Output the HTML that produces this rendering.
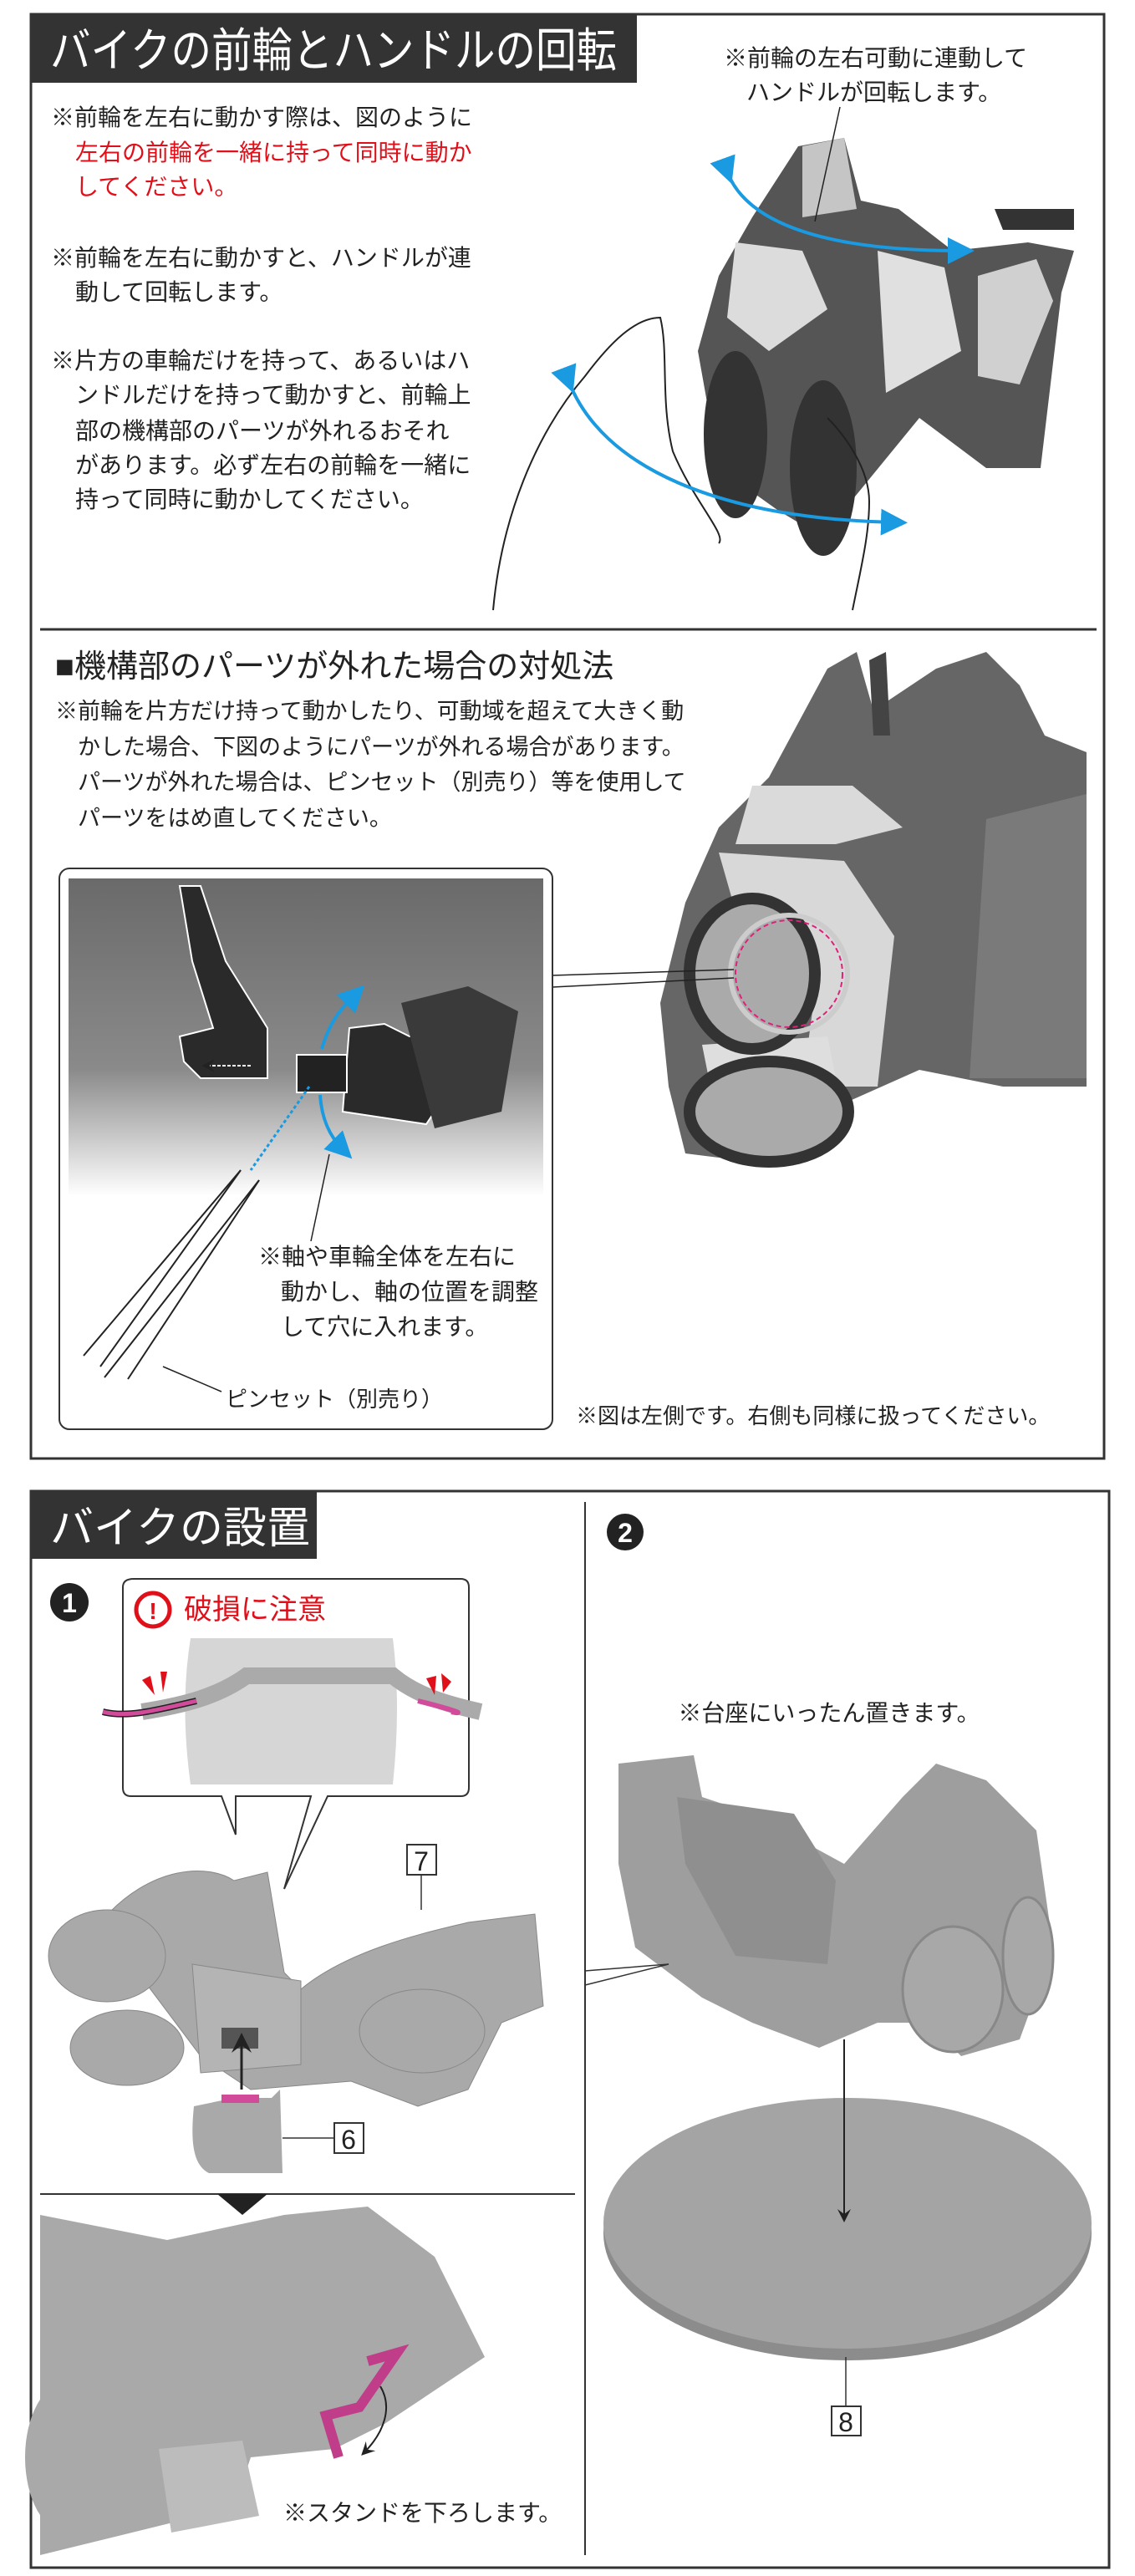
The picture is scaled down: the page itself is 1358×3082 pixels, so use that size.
<!DOCTYPE html>
<html><head><meta charset="utf-8">
<style>
html,body{margin:0;padding:0;background:#fff;}
svg{display:block;}
text{font-family:"Liberation Sans","Noto Sans CJK JP",sans-serif;}
</style></head>
<body>
<svg width="1358" height="3082" viewBox="0 0 1358 3082" xmlns="http://www.w3.org/2000/svg">
<defs>
<linearGradient id="fade" x1="0" y1="0" x2="0" y2="1">
<stop offset="0" stop-color="#6a6a6a"/><stop offset="0.6" stop-color="#8a8a8a"/><stop offset="1" stop-color="#ffffff"/>
</linearGradient>
<marker id="ab" markerWidth="8" markerHeight="8" refX="4" refY="4" orient="auto"><path d="M0,0 L8,4 L0,8z" fill="#1a9ae0"/></marker>
<marker id="ak" markerWidth="8" markerHeight="8" refX="6" refY="4" orient="auto"><path d="M0,0 L8,4 L0,8 L3,4z" fill="#222"/></marker>
</defs>

<!-- ===== Box 1 ===== -->
<rect x="37" y="17" width="1284" height="1728" fill="#fff" stroke="#333" stroke-width="3"/>
<rect x="37" y="17" width="725" height="82" fill="#333"/>
<text x="60" y="80" font-size="56" fill="#fff" textLength="678" lengthAdjust="spacingAndGlyphs">バイクの前輪とハンドルの回転</text>

<g font-size="28" fill="#222">
<text x="61" y="150">※前輪を左右に動かす際は、図のように</text>
<text x="90" y="192" fill="#e0101a">左右の前輪を一緒に持って同時に動か</text>
<text x="90" y="233" fill="#e0101a">してください。</text>
<text x="61" y="318">※前輪を左右に動かすと、ハンドルが連</text>
<text x="90" y="359">動して回転します。</text>
<text x="61" y="441">※片方の車輪だけを持って、あるいはハ</text>
<text x="90" y="482">ンドルだけを持って動かすと、前輪上</text>
<text x="90" y="525">部の機構部のパーツが外れるおそれ</text>
<text x="90" y="566">があります。必ず左右の前輪を一緒に</text>
<text x="90" y="607">持って同時に動かしてください。</text>
<text x="866" y="79">※前輪の左右可動に連動して</text>
<text x="893" y="120">ハンドルが回転します。</text>
</g>

<!-- top bike -->
<g>
<path d="M955,175 L1010,165 L1030,240 L1075,250 L1140,300 L1230,290 L1285,300 L1270,350 L1245,560 L1180,560 L1100,500 L1010,610 L980,640 L930,610 L860,560 L835,420 L860,330 L900,260 Z" fill="#555"/>
<path d="M960,175 L1010,165 L1025,250 L960,260 Z" fill="#c5c5c5"/>
<path d="M880,290 L960,300 L990,370 L920,420 L870,380 Z" fill="#dcdcdc"/>
<path d="M1050,300 L1130,320 L1150,420 L1060,470 Z" fill="#e0e0e0"/>
<path d="M1170,330 L1240,310 L1260,360 L1220,460 L1170,450 Z" fill="#d0d0d0"/>
<ellipse cx="880" cy="520" rx="38" ry="100" fill="#333"/>
<ellipse cx="985" cy="560" rx="40" ry="105" fill="#333"/>
<path d="M1190,250 L1285,250 L1285,275 L1200,275 Z" fill="#333"/>
</g>
<!-- hand outline -->
<path d="M590,730 C600,620 640,520 700,450 C730,410 760,380 790,380 C800,420 790,480 805,540 C830,600 870,640 860,650 M1020,730 C1030,680 1040,640 1040,600 C1040,560 1010,520 990,500" fill="none" stroke="#222" stroke-width="2"/>
<!-- blue arrows -->
<path d="M870,205 C890,260 970,300 1150,300" fill="none" stroke="#1a9ae0" stroke-width="4" marker-start="url(#ab)" marker-end="url(#ab)"/>
<path d="M680,455 C720,560 860,620 1070,625" fill="none" stroke="#1a9ae0" stroke-width="4" marker-start="url(#ab)" marker-end="url(#ab)"/>
<line x1="1005" y1="128" x2="975" y2="265" stroke="#222" stroke-width="1.5"/>

<line x1="48" y1="753" x2="1312" y2="753" stroke="#333" stroke-width="3"/>

<text x="66" y="810" font-size="38" fill="#222">■機構部のパーツが外れた場合の対処法</text>
<g font-size="27" fill="#222">
<text x="66" y="860">※前輪を片方だけ持って動かしたり、可動域を超えて大きく動</text>
<text x="93" y="903">かした場合、下図のようにパーツが外れる場合があります。</text>
<text x="93" y="945">パーツが外れた場合は、ピンセット（別売り）等を使用して</text>
<text x="93" y="988">パーツをはめ直してください。</text>
</g>

<!-- second bike -->
<g>
<path d="M990,800 L1025,780 L1045,850 L1120,800 L1180,780 L1220,820 L1250,880 L1300,900 L1300,1300 L1200,1300 L1100,1280 L1010,1320 L900,1390 L820,1380 L800,1300 L790,1200 L820,1080 L860,990 L920,930 Z" fill="#666"/>
<path d="M900,940 L1020,940 L1080,990 L1000,1010 L880,1010 Z" fill="#dadada"/>
<path d="M860,1020 L1010,1030 L1070,1120 L1050,1300 L960,1300 L980,1150 L880,1090 Z" fill="#d8d8d8"/>
<path d="M840,1250 L990,1240 L1000,1290 L850,1300 Z" fill="#dedede"/>
<ellipse cx="900" cy="1165" rx="75" ry="90" fill="#aaa" stroke="#333" stroke-width="14"/>
<ellipse cx="920" cy="1330" rx="95" ry="60" fill="#aaa" stroke="#333" stroke-width="14"/>
<path d="M1180,980 L1300,950 L1300,1290 L1160,1290 Z" fill="#7a7a7a"/>
<path d="M1040,790 L1060,780 L1065,880 L1045,880 Z" fill="#444"/>
</g>
<circle cx="944" cy="1165" r="70" fill="none" stroke="#ccc" stroke-width="6"/>
<circle cx="944" cy="1165" r="64" fill="none" stroke="#e0207a" stroke-width="2" stroke-dasharray="6 4"/>
<line x1="661" y1="1167" x2="878" y2="1160" stroke="#222" stroke-width="1.5"/>
<line x1="661" y1="1181" x2="878" y2="1170" stroke="#222" stroke-width="1.5"/>

<!-- inset -->
<rect x="71" y="1039" width="590" height="671" rx="12" fill="#fff" stroke="#333" stroke-width="2"/>
<rect x="82" y="1051" width="568" height="380" fill="url(#fade)"/>
<path d="M215,1060 L240,1060 L270,1150 L320,1230 L320,1290 L240,1290 L220,1270 L215,1240 L255,1230 L230,1150 Z" fill="#2a2a2a" stroke="#fff" stroke-width="2"/>
<path d="M418,1230 L460,1225 L490,1240 L530,1230 L540,1300 L510,1345 L410,1330 Z" fill="#2a2a2a" stroke="#fff" stroke-width="2"/>
<rect x="355" y="1262" width="60" height="45" fill="#222" stroke="#fff" stroke-width="2"/>
<path d="M480,1200 L560,1180 L620,1210 L600,1330 L520,1350 Z" fill="#3a3a3a"/>
<path d="M385,1255 C395,1220 410,1205 425,1190" fill="none" stroke="#1a9ae0" stroke-width="4" marker-end="url(#ab)"/>
<path d="M383,1310 C385,1340 395,1360 410,1375" fill="none" stroke="#1a9ae0" stroke-width="4" marker-end="url(#ab)"/>
<line x1="370" y1="1300" x2="300" y2="1400" stroke="#1a9ae0" stroke-width="3" stroke-dasharray="4 3"/>
<path d="M300,1275 L245,1275" stroke="#fff" stroke-width="2" stroke-dasharray="4 2" marker-end="url(#ak)"/>
<g stroke="#222" stroke-width="2" fill="none">
<path d="M100,1622 L288,1400"/><path d="M120,1635 L288,1400"/>
<path d="M125,1648 L310,1412"/><path d="M153,1650 L310,1412"/>
</g>
<line x1="394" y1="1381" x2="372" y2="1485" stroke="#222" stroke-width="1.5"/>
<line x1="195" y1="1635" x2="265" y2="1665" stroke="#222" stroke-width="1.5"/>
<g font-size="28" fill="#222">
<text x="309" y="1513">※軸や車輪全体を左右に</text>
<text x="336" y="1555">動かし、軸の位置を調整</text>
<text x="336" y="1597">して穴に入れます。</text>
<text x="270" y="1683" font-size="26">ピンセット（別売り）</text>
</g>
<text x="689" y="1703" font-size="26" fill="#222">※図は左側です。右側も同様に扱ってください。</text>

<!-- ===== Box 2 ===== -->
<rect x="37" y="1784" width="1290" height="1288" fill="#fff" stroke="#333" stroke-width="3"/>
<rect x="37" y="1784" width="342" height="81" fill="#333"/>
<text x="60" y="1846" font-size="52" fill="#fff">バイクの設置</text>
<line x1="700" y1="1797" x2="700" y2="3057" stroke="#333" stroke-width="2"/>
<line x1="48" y1="2625" x2="688" y2="2625" stroke="#333" stroke-width="2"/>
<path d="M260,2625 L320,2625 L290,2650 Z" fill="#222"/>

<circle cx="83" cy="1917" r="23" fill="#222"/>
<text x="83" y="1929" font-size="32" font-weight="bold" fill="#fff" text-anchor="middle">1</text>
<circle cx="748" cy="1833" r="22" fill="#222"/>
<text x="748" y="1845" font-size="32" font-weight="bold" fill="#fff" text-anchor="middle">2</text>

<!-- callout -->
<path d="M160,1889 L551,1889 Q561,1889 561,1899 L561,2139 Q561,2149 551,2149 L392,2149 L340,2260 L372,2149 L282,2149 L282,2195 L265,2149 L157,2149 Q147,2149 147,2139 L147,1899 Q147,1889 160,1889 Z" fill="#fff" stroke="#333" stroke-width="2"/>
<circle cx="183" cy="1926" r="20" fill="#fff" stroke="#e0101a" stroke-width="5"/>
<text x="183" y="1937" font-size="28" font-weight="bold" fill="#e0101a" text-anchor="middle">!</text>
<text x="220" y="1937" font-size="34" fill="#e0101a">破損に注意</text>
<path d="M228,1960 L470,1960 Q480,2040 470,2135 L228,2135 Q215,2040 228,1960 Z" fill="#d6d6d6"/>
<path d="M170,2048 C220,2040 260,2030 295,2005 L470,2005 C500,2030 540,2040 575,2048" fill="none" stroke="#aaa" stroke-width="20"/>
<path d="M123,2048 C150,2055 180,2048 235,2035" fill="none" stroke="#222" stroke-width="8"/>
<path d="M123,2048 C150,2055 180,2048 235,2035" fill="none" stroke="#d24a9a" stroke-width="5"/>
<path d="M500,2035 C540,2045 560,2052 540,2048" fill="none" stroke="#d24a9a" stroke-width="6"/>
<g fill="#e0101a"><path d="M170,2010 L185,2028 L180,2005z"/><path d="M192,2000 L195,2025 L200,2000z"/><path d="M510,2008 L520,2028 L522,2005z"/><path d="M528,2002 L530,2025 L540,2012z"/></g>

<!-- lying bike -->
<g fill="#a9a9a9" stroke="#888" stroke-width="1">
<path d="M120,2300 C180,2230 250,2230 280,2250 L320,2240 L340,2360 L360,2380 C420,2330 520,2310 560,2300 L640,2290 L650,2400 L600,2420 L560,2500 L500,2520 L420,2490 L300,2500 L240,2460 Z"/>
<ellipse cx="128" cy="2340" rx="70" ry="55"/>
<ellipse cx="152" cy="2450" rx="68" ry="45"/>
<ellipse cx="505" cy="2430" rx="75" ry="50"/>
<path d="M230,2350 L360,2370 L360,2470 L240,2480 Z" fill="#b4b4b4"/>
</g>
<rect x="265" y="2426" width="44" height="25" fill="#555"/>
<line x1="289" y1="2500" x2="289" y2="2438" stroke="#222" stroke-width="3" marker-end="url(#ak)"/>
<path d="M232,2520 L280,2510 L325,2510 L335,2500 L338,2600 L250,2600 C230,2590 228,2560 232,2520 Z" fill="#a9a9a9"/>
<rect x="265" y="2506" width="45" height="10" fill="#d24a9a"/>
<rect x="487" y="2207" width="35" height="36" fill="#fff" stroke="#333" stroke-width="2"/>
<text x="504" y="2238" font-size="32" fill="#222" text-anchor="middle">7</text>
<line x1="504" y1="2243" x2="504" y2="2285" stroke="#333" stroke-width="1.5"/>
<rect x="400" y="2540" width="35" height="36" fill="#fff" stroke="#333" stroke-width="2"/>
<text x="417" y="2571" font-size="32" fill="#222" text-anchor="middle">6</text>
<line x1="338" y1="2558" x2="400" y2="2558" stroke="#333" stroke-width="1.5"/>

<!-- lower left -->
<g fill="#a9a9a9">
<path d="M48,2650 L200,2680 L340,2650 L440,2640 L520,2700 L560,2780 L580,2820 L520,2860 L460,2900 L400,2930 L300,2940 L280,3000 L48,3057 Z"/>
<ellipse cx="80" cy="2940" rx="50" ry="90"/>
<path d="M190,2930 L290,2920 L310,3010 L205,3030 Z" fill="#bcbcbc"/>
</g>
<path d="M440,2825 L475,2815 L430,2880 L390,2890 L405,2940" fill="none" stroke="#c03d8a" stroke-width="12"/>
<path d="M455,2855 C470,2880 460,2910 435,2935" fill="none" stroke="#222" stroke-width="2" marker-end="url(#ak)"/>
<text x="339" y="3016" font-size="28" fill="#222">※スタンドを下ろします。</text>

<!-- right: stand -->
<text x="992" y="2059" font-size="28" fill="#222" text-anchor="middle">※台座にいったん置きます。</text>
<g fill="#9e9e9e">
<path d="M740,2110 L830,2100 L840,2150 L900,2170 L1010,2230 L1080,2150 L1120,2110 L1180,2130 L1240,2190 L1260,2330 L1220,2440 L1150,2460 L1110,2420 L1050,2420 L980,2450 L900,2420 L840,2390 L760,2330 L740,2230 Z"/>
<path d="M810,2150 L950,2170 L1000,2250 L990,2350 L880,2340 L820,2230 Z" fill="#8f8f8f"/>
<ellipse cx="1140" cy="2380" rx="60" ry="75" fill="#a8a8a8" stroke="#888" stroke-width="3"/>
<ellipse cx="1230" cy="2340" rx="30" ry="70" fill="#a8a8a8" stroke="#888" stroke-width="3"/>
</g>
<path d="M700,2375 L800,2350 L700,2358" fill="none" stroke="#333" stroke-width="1.5"/>
<ellipse cx="1014" cy="2672" rx="292" ry="152" fill="#8c8c8c"/>
<ellipse cx="1014" cy="2660" rx="292" ry="150" fill="#a4a4a4"/>
<line x1="1010" y1="2440" x2="1010" y2="2655" stroke="#222" stroke-width="2" marker-end="url(#ak)"/>
<line x1="1012" y1="2820" x2="1012" y2="2879" stroke="#333" stroke-width="1.5"/>
<rect x="995" y="2879" width="35" height="35" fill="#fff" stroke="#333" stroke-width="2"/>
<text x="1012" y="2909" font-size="32" fill="#222" text-anchor="middle">8</text>
</svg>
</body></html>
